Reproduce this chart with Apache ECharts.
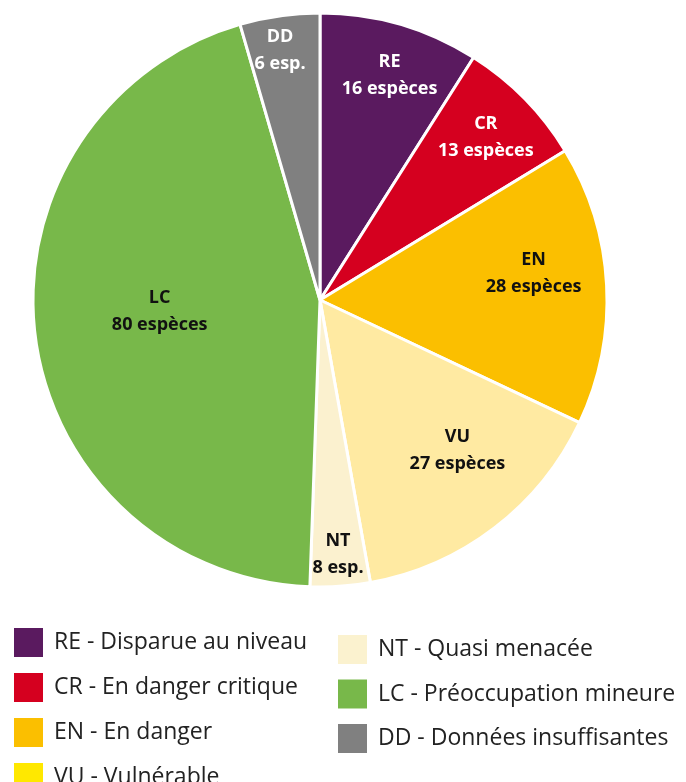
<!DOCTYPE html>
<html lang="fr">
<head>
    <meta charset="UTF-8">
    <title>Liste rouge - statuts</title>
    <script src="https://cdn.jsdelivr.net/npm/echarts@6/dist/echarts.min.js"></script>
    <style>
        html, body { margin: 0; padding: 0; background: #fff; }
        #main { width: 686px; height: 782px; }
    </style>
</head>
<body>
<div id="main"></div>
<script>
    // catégories et valeurs
    var codes = ['RE', 'CR', 'EN', 'VU', 'NT', 'LC', 'DD'];
    var legendNames = ['RE - Disparue au niveau', 'CR - En danger critique', 'EN - En danger',
        'VU - Vulnérable', 'NT - Quasi menacée', 'LC - Préoccupation mineure', 'DD - Données insuffisantes'];
    // taille des parts telle que dessinée
    var sliceValues = [16, 13, 28, 27, 6, 80, 8];
    // texte des étiquettes
    var labelCounts = ['16 espèces', '13 espèces', '28 espèces', '27 espèces', '8 esp.', '80 espèces', '6 esp.'];
    var sliceColors = ['#5a1a5f', '#d5001f', '#fbbf00', '#ffeaa2', '#fbf1cf', '#78b84a', '#808080'];
    var legendColors = ['#5a1a5f', '#d5001f', '#fbbf00', '#ffe800', '#fbf2cf', '#78b84a', '#808080'];
    var labelColors = ['#fff', '#fff', '#111', '#111', '#111', '#111', '#fff'];
    // placement des étiquettes (fraction du rayon, décalage angulaire en degrés)
    var labelRadius = [0.82, 0.81, 0.75, 0.71, 0.89, 0.56, 0.88];
    var labelShift = [1, 0, -4, -5, 0, 3, -1];

    var cx = 320, cy = 300, R = 287;
    var total = sliceValues.reduce(function (a, b) { return a + b; }, 0);
    var midAngles = [];
    var acc = 0;
    sliceValues.forEach(function (v) {
        midAngles.push((acc + v / 2) / total * 360);
        acc += v;
    });

    var myChart = echarts.init(document.getElementById('main'));

    var seriesData = codes.map(function (c, i) {
        return {
            name: legendNames[i],
            value: sliceValues[i],
            itemStyle: {color: sliceColors[i]},
            label: {
                color: labelColors[i],
                formatter: c + '\n' + labelCounts[i]
            }
        };
    });

    function legendItems(from, to) {
        return legendNames.slice(from, to).map(function (n, k) {
            return {name: n, itemStyle: {color: legendColors[from + k]}};
        });
    }

    var legendText = {fontFamily: 'Open Sans', fontSize: 23, color: '#222', padding: [0, 0, 0, 5]};

    var option = {
        animation: false,
        legend: [{
            orient: 'vertical',
            left: 12,
            top: 626,
            height: 300,
            padding: 0,
            itemWidth: 31,
            itemHeight: 31,
            itemGap: 12,
            icon: 'rect',
            selectedMode: false,
            textStyle: legendText,
            data: legendItems(0, 4)
        }, {
            orient: 'vertical',
            left: 336,
            top: 633,
            height: 300,
            padding: 0,
            itemWidth: 31,
            itemHeight: 31,
            itemGap: 11.5,
            icon: 'rect',
            selectedMode: false,
            textStyle: legendText,
            data: legendItems(4, 7)
        }],
        series: [{
            type: 'pie',
            center: [cx, cy],
            radius: [0, R],
            startAngle: 90,
            clockwise: true,
            itemStyle: {borderColor: '#fff', borderWidth: 3},
            label: {
                show: true,
                position: 'inside',
                fontFamily: 'Open Sans',
                fontWeight: 'bold',
                fontSize: 18,
                lineHeight: 27,
                align: 'center'
            },
            labelLine: {show: false},
            labelLayout: function (params) {
                var i = params.dataIndex;
                var a = (midAngles[i] + labelShift[i]) * Math.PI / 180;
                var r = R * labelRadius[i];
                return {
                    x: cx + r * Math.sin(a),
                    y: cy - r * Math.cos(a),
                    align: 'center',
                    verticalAlign: 'middle'
                };
            },
            data: seriesData
        }]
    };

    myChart.setOption(option);
</script>
</body>
</html>
